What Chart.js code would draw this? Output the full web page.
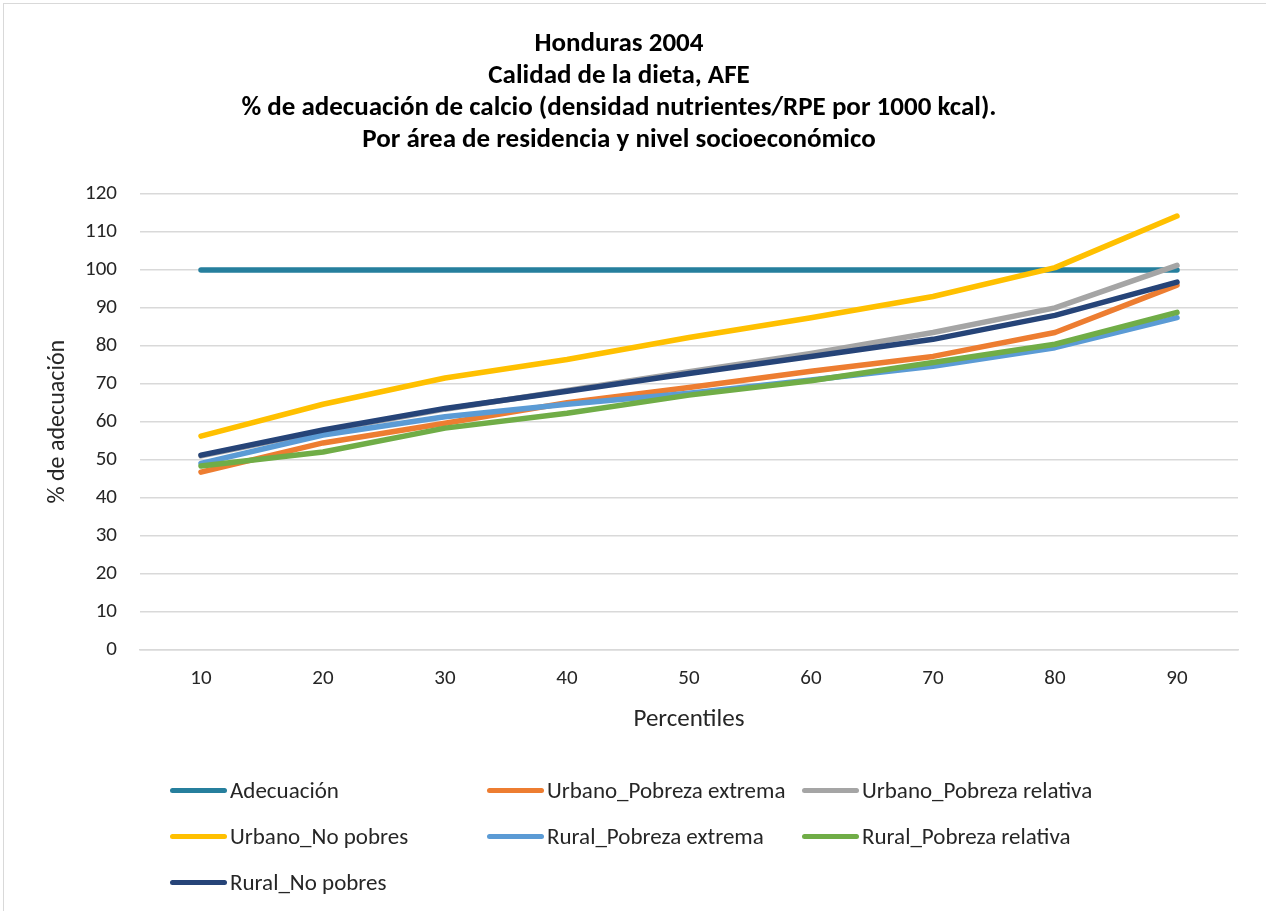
<!DOCTYPE html>
<html>
<head>
<meta charset="utf-8">
<script src="https://cdn.jsdelivr.net/npm/chart.js@4.4.0/dist/chart.umd.min.js"></script>
<style>
  html, body { margin: 0; padding: 0; background: #fff; overflow: hidden; }
  #frame { position: absolute; left: 3px; top: 3px; width: 1300px; height: 950px; border: 1px solid #d9d9d9; }
  #wrap { position: absolute; left: 0; top: 0; width: 1266px; height: 911px; }
  #legend { position: absolute; left: 0; top: 0; width: 1266px; height: 911px; pointer-events: none;
    font-family: Calibri, Carlito, Lato, sans-serif; font-size: 23px; color: #262626; }
  .item { position: absolute; height: 26px; display: flex; align-items: center; white-space: nowrap; }
  .swatch { width: 57px; height: 5px; border-radius: 3px; margin-right: 3px; }
</style>
</head>
<body>
<div id="frame"></div>
<div id="wrap"><canvas id="chart" width="1266" height="911"></canvas></div>
<div id="legend"></div>
<script>
// categorias (percentiles)
const percentiles = ['10', '20', '30', '40', '50', '60', '70', '80', '90'];

// series, % de adecuacion
const adecuacion = [100, 100, 100, 100, 100, 100, 100, 100, 100];
const urbanoPobrezaExtrema = [46.7, 54.4, 59.6, 65, 69, 73.3, 77.2, 83.5, 96];
const urbanoPobrezaRelativa = [51, 57.5, 63.3, 68.2, 73.2, 78, 83.5, 90, 101.2];
const urbanoNoPobres = [56.2, 64.6, 71.5, 76.4, 82.2, 87.4, 93, 100.6, 114.2];
const ruralPobrezaExtrema = [49, 56.5, 61.3, 64.6, 67.5, 71, 74.6, 79.5, 87.4];
const ruralPobrezaRelativa = [48.3, 52, 58.3, 62.2, 67, 70.8, 75.6, 80.4, 88.8];
const ruralNoPobres = [51.2, 57.8, 63.5, 68, 72.7, 77.2, 81.7, 88, 96.8];

const seriesNames = ['Adecuación', 'Urbano_Pobreza extrema', 'Urbano_Pobreza relativa',
  'Urbano_No pobres', 'Rural_Pobreza extrema', 'Rural_Pobreza relativa', 'Rural_No pobres'];
const seriesData = [adecuacion, urbanoPobrezaExtrema, urbanoPobrezaRelativa,
  urbanoNoPobres, ruralPobrezaExtrema, ruralPobrezaRelativa, ruralNoPobres];
const seriesColors = ['#267F9D', '#ED7D31', '#A5A5A5', '#FFC000', '#5B9BD5', '#70AD47', '#264478'];

const titleLines = [
  'Honduras 2004',
  'Calidad de la dieta, AFE',
  '% de adecuación de calcio (densidad nutrientes/RPE por 1000 kcal).',
  'Por área de residencia y nivel socioeconómico'
];

const fontFam = 'Calibri, Carlito, Lato, sans-serif';
const textColor = '#262626';

const datasets = seriesNames.map((name, i) => ({
  label: name,
  data: seriesData[i],
  borderColor: seriesColors[i],
  backgroundColor: seriesColors[i],
  borderWidth: 5.5,
  borderCapStyle: 'round',
  borderJoinStyle: 'round',
  pointRadius: 0,
  tension: 0,
  fill: false,
  order: seriesNames.length - i   // como Excel: la ultima serie queda encima
}));

const ctx = document.getElementById('chart').getContext('2d');
const chart = new Chart(ctx, {
  type: 'line',
  data: { labels: percentiles, datasets: datasets },
  options: {
    responsive: false,
    animation: false,
    layout: { padding: { left: 0, right: 28, top: 0, bottom: 176.6 } },
    plugins: {
      legend: { display: false },
      tooltip: { enabled: false },
      title: {
        display: true,
        text: titleLines,
        color: '#000',
        font: { family: fontFam, size: 27, weight: 'bold', lineHeight: 1.185 },
        padding: { top: 28, bottom: 38 }
      }
    },
    scales: {
      x: {
        offset: true,
        grid: { display: false, drawTicks: false },
        border: { display: true, color: '#d9d9d9', width: 1.5 },
        ticks: { color: textColor, font: { family: fontFam, size: 21 }, padding: 17 },
        title: { display: true, text: 'Percentiles', color: textColor,
          font: { family: fontFam, size: 25 }, padding: { top: 0, bottom: 0 } },
        afterFit: function (scale) { scale.height = 85; }
      },
      y: {
        min: 0,
        max: 120,
        ticks: { stepSize: 10, color: textColor, font: { family: fontFam, size: 21 }, padding: 23 },
        grid: { color: '#d9d9d9', lineWidth: 1.5, drawTicks: false },
        border: { display: false },
        title: { display: true, text: '% de adecuación', color: textColor,
          font: { family: fontFam, size: 24 }, padding: { top: 43.6, bottom: 0 } },
        afterFit: function (scale) { scale.width = 140; }
      }
    }
  }
});

// leyenda en 3 columnas, como en la hoja original
const legendCols = [170, 487, 802];
const legendRows = [790, 836, 882];
const legendBox = document.getElementById('legend');
seriesNames.forEach((name, i) => {
  const el = document.createElement('div');
  el.className = 'item';
  el.style.left = legendCols[i % 3] + 'px';
  el.style.top = (legendRows[Math.floor(i / 3)] - 13) + 'px';
  el.innerHTML = '<span class="swatch" style="background:' + seriesColors[i] + '"></span><span>' + name + '</span>';
  legendBox.appendChild(el);
});
</script>
</body>
</html>
